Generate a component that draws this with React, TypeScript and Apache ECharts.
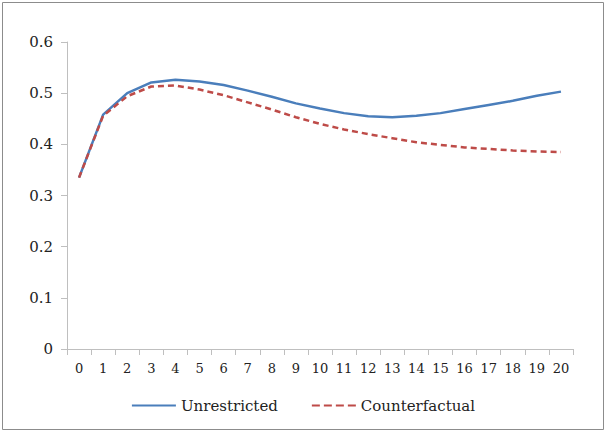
import React, { useEffect, useRef } from "react";
import * as echarts from "echarts";

const categories = ["0","1","2","3","4","5","6","7","8","9","10","11","12","13","14","15","16","17","18","19","20"];
const unrestricted = [0.335,0.458,0.500,0.521,0.526,0.523,0.516,0.505,0.493,0.480,0.470,0.461,0.455,0.453,0.456,0.461,0.469,0.477,0.485,0.495,0.503];
const counterfactual = [0.335,0.456,0.494,0.513,0.515,0.507,0.496,0.482,0.468,0.453,0.440,0.429,0.420,0.412,0.404,0.399,0.394,0.391,0.388,0.386,0.385];

const FONT = "DejaVu Serif";

export default function App() {
  const ref = useRef<HTMLDivElement>(null);
  useEffect(() => {
    document.body.style.margin = "0";
    const chart = echarts.init(ref.current!, null, { renderer: "svg" });
    chart.setOption({
      animation: false,
      backgroundColor: "#ffffff",
      textStyle: { fontFamily: FONT },
      graphic: [
        {
          type: "rect",
          shape: { x: 2.5, y: 2.5, width: 601, height: 427 },
          style: { fill: "none", stroke: "#8c8c8c", lineWidth: 1 },
          silent: true,
        },
      ],
      grid: { left: 67, right: 34, top: 42, bottom: 84 },
      legend: {
        bottom: 15,
        left: "center",
        itemWidth: 44,
        itemHeight: 10,
        itemGap: 34,
        textStyle: { fontFamily: FONT, fontSize: 15, color: "#222" },
        data: [
          { name: "Unrestricted", icon: "path://M0,4 L44,4 L44,6 L0,6 Z" },
          { name: "Counterfactual", icon: "path://M0,4 L8,4 L8,6 L0,6 Z M12,4 L20,4 L20,6 L12,6 Z M24,4 L32,4 L32,6 L24,6 Z M36,4 L44,4 L44,6 L36,6 Z" },
        ],
      },
      xAxis: {
        type: "category",
        data: categories,
        boundaryGap: true,
        axisLine: { lineStyle: { color: "#bfbfbf", width: 1 } },
        axisTick: { show: true, alignWithLabel: false, length: 6, lineStyle: { color: "#bfbfbf" } },
        axisLabel: { fontFamily: FONT, fontSize: 13, color: "#222", margin: 13 },
        splitLine: { show: false },
      },
      yAxis: {
        type: "value",
        min: 0,
        max: 0.6,
        interval: 0.1,
        axisLine: { show: true, lineStyle: { color: "#bfbfbf", width: 1 } },
        axisTick: { show: true, length: 6, lineStyle: { color: "#bfbfbf" } },
        axisLabel: {
          fontFamily: FONT,
          fontSize: 15,
          color: "#222",
          margin: 14,
          formatter: (v: number) => (v === 0 ? "0" : String(Math.round(v * 10) / 10)),
        },
        splitLine: { show: false },
      },
      series: [
        {
          name: "Unrestricted",
          type: "line",
          data: unrestricted,
          showSymbol: false,
          smooth: false,
          color: "#4a7ebb",
          lineStyle: { color: "#4a7ebb", width: 2.5 },
        },
        {
          name: "Counterfactual",
          type: "line",
          data: counterfactual,
          showSymbol: false,
          smooth: false,
          color: "#be4b48",
          lineStyle: { color: "#be4b48", width: 2.5, type: [6, 4] },
        },
      ],
    });
    return () => chart.dispose();
  }, []);
  return <div ref={ref} style={{ position: "absolute", left: 0, top: 0, width: 607, height: 433 }} />;
}
